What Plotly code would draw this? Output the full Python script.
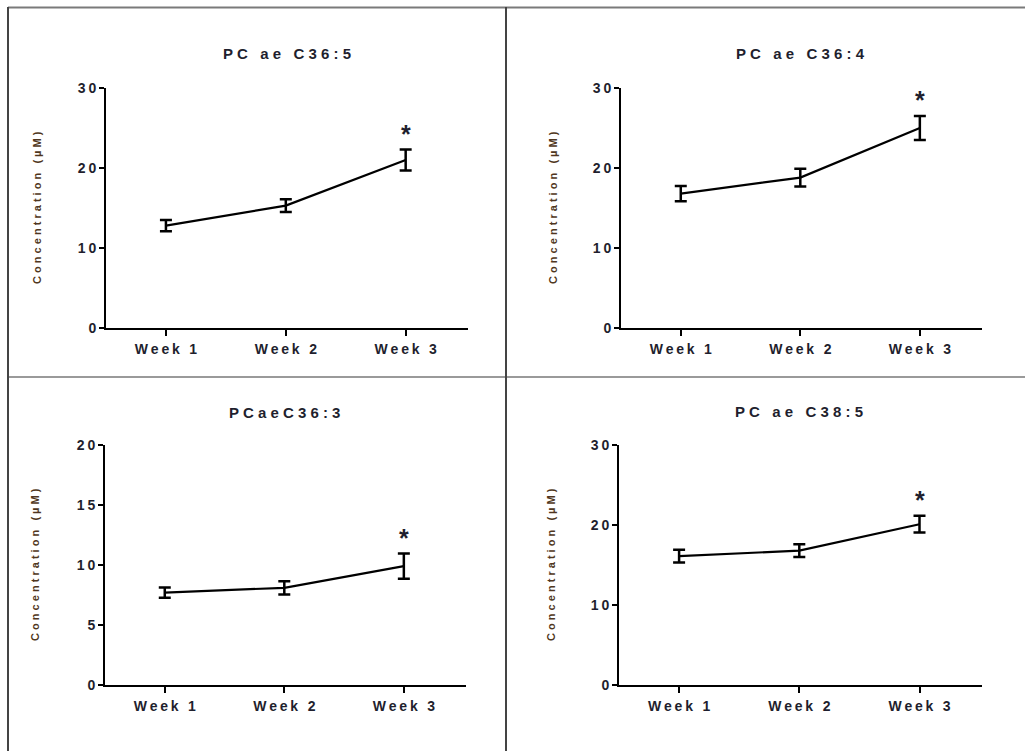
import plotly.graph_objects as go

W, H = 1025, 751

weeks = ["Week 1", "Week 2", "Week 3"]

titles = ["PC ae C36:5", "PC ae C36:4", "PCaeC36:3", "PC ae C38:5"]

c36_5_mean = [12.8, 15.3, 21.0]
c36_5_err = [0.7, 0.8, 1.3]
c36_4_mean = [16.8, 18.8, 25.0]
c36_4_err = [0.95, 1.1, 1.5]
c36_3_mean = [7.7, 8.1, 9.9]
c36_3_err = [0.42, 0.55, 1.05]
c38_5_mean = [16.1, 16.8, 20.1]
c38_5_err = [0.8, 0.8, 1.05]

y_max = [30, 30, 20, 30]
y_step = [10, 10, 5, 10]
star_index = [2, 2, 2, 2]

means = [c36_5_mean, c36_4_mean, c36_3_mean, c38_5_mean]
errs = [c36_5_err, c36_4_err, c36_3_err, c38_5_err]

# panel pixel geometry (left, right, top, bottom)
boxes = [(106, 468, 88, 328), (621, 982, 88, 328), (105, 466, 445, 685), (619, 982, 445, 685)]
title_pos = [(287, 53), (800, 53), (284, 412), (799, 411)]
ytitle_pos = [(37, 208), (553, 208), (35, 565), (551, 565)]

FONT = "Liberation Sans, Arial, sans-serif"
TXT = "#1f1f2e"
YT = "#4f3620"
THIN = "\u2009"


def spaced(s, sep=THIN):
    return sep.join(list(s))


def px(x):
    return x / W


def py(y):
    return 1 - y / H


fig = go.Figure()
annotations = []
shapes = []

for i in range(4):
    sfx = "" if i == 0 else str(i + 1)
    l, r, t, b = boxes[i]
    fig.add_trace(go.Scatter(
        x=weeks, y=means[i],
        error_y=dict(type="data", array=errs[i], visible=True, color="black", thickness=2.5, width=6),
        mode="lines", line=dict(color="black", width=2.2),
        xaxis="x" + sfx, yaxis="y" + sfx, showlegend=False,
    ))
    yt = list(range(0, y_max[i] + 1, y_step[i]))
    fig.layout["xaxis" + sfx] = dict(
        domain=[px(l), px(r)], anchor="y" + sfx, type="category",
        range=[-0.5, 2.52], showgrid=False, zeroline=False,
        showline=True, linecolor="black", linewidth=2,
        ticks="outside", ticklen=6, tickwidth=2, tickcolor="black",
        tickvals=weeks, ticktext=[spaced(w) for w in weeks],
        tickfont=dict(family=FONT, size=14, color=TXT, weight="bold"),
        ticklabelstandoff=1, fixedrange=True, automargin=False,
    )
    fig.layout["yaxis" + sfx] = dict(
        domain=[py(b), py(t)], anchor="x" + sfx,
        range=[0, y_max[i]], showgrid=False, zeroline=False,
        showline=True, linecolor="black", linewidth=2,
        ticks="outside", ticklen=5, tickwidth=2, tickcolor="black",
        tickvals=yt, ticktext=[spaced(str(v)) for v in yt],
        tickfont=dict(family=FONT, size=14, color=TXT, weight="bold"),
        fixedrange=True, automargin=False,
    )
    tx, ty = title_pos[i]
    annotations.append(dict(
        text=" ".join(list(titles[i])), x=px(tx), y=py(ty), xref="paper", yref="paper",
        showarrow=False, xanchor="center", yanchor="middle",
        font=dict(family=FONT, size=15, color=TXT, weight="bold"),
    ))
    yx, yy = ytitle_pos[i]
    annotations.append(dict(
        text=" ".join(list("Concentration (µM)")), x=px(yx), y=py(yy), xref="paper", yref="paper",
        showarrow=False, xanchor="center", yanchor="middle", textangle=-90,
        font=dict(family=FONT, size=11, color=YT, weight="bold"),
    ))
    k = star_index[i]
    annotations.append(dict(
        text="*", x=weeks[k], y=means[i][k] + errs[i][k], xref="x" + sfx, yref="y" + sfx,
        showarrow=False, xanchor="center", yanchor="bottom", yshift=0,
        font=dict(family=FONT, size=25, color=TXT, weight="bold"),
    ))

# panel frame lines
shapes.append(dict(type="line", xref="paper", yref="paper", x0=px(8), x1=px(1025), y0=py(7.5), y1=py(7.5),
                   line=dict(color="#7a7a7a", width=2)))
shapes.append(dict(type="line", xref="paper", yref="paper", x0=px(8), x1=px(1025), y0=py(377), y1=py(377),
                   line=dict(color="#9a9a9a", width=2)))
shapes.append(dict(type="line", xref="paper", yref="paper", x0=px(8), x1=px(8), y0=py(7), y1=py(751),
                   line=dict(color="#444444", width=2)))
shapes.append(dict(type="line", xref="paper", yref="paper", x0=px(506), x1=px(506), y0=py(7), y1=py(751),
                   line=dict(color="#444444", width=2)))

fig.update_layout(
    width=W, height=H, autosize=False,
    margin=dict(l=0, r=0, t=0, b=0, pad=0, autoexpand=False),
    paper_bgcolor="white", plot_bgcolor="white",
    annotations=annotations, shapes=shapes,
    showlegend=False,
)

fig.write_html("out.html", config={"displayModeBar": False},
               post_script="document.body.style.margin='0';document.body.style.overflow='hidden';")
